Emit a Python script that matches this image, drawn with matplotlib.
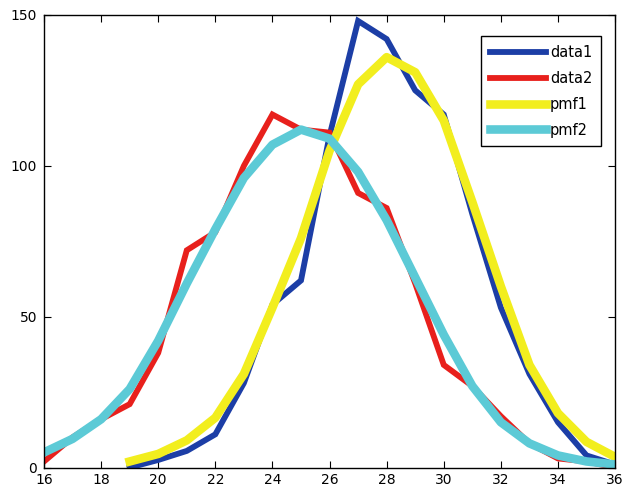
import numpy as np
import matplotlib.pyplot as plt

# valeurs
x1 = np.arange(19, 37)
data1 = [0, 2.5, 5.5, 11, 28, 54, 62, 110, 148, 142, 125, 117, 84, 53, 31, 15, 4, 1]
pmf1 = [2, 4.5, 9, 16.5, 31, 53, 76, 105, 127, 136, 131, 115, 88, 60, 34, 18, 8.5, 3.5]

x2 = np.arange(16, 37)
data2 = [2, 10, 16, 21, 38, 72, 78, 100, 117, 112, 111, 91, 86, 61, 34, 27, 17, 8, 3, 2, 0]
pmf2 = [5, 9.5, 16, 26, 42, 61, 79, 96, 107, 112, 109, 98, 82, 63, 44, 27, 15, 8, 4, 2, 1]

xticks = np.arange(16, 37, 2)
yticks = [0, 50, 100, 150]

fig = plt.figure(figsize=(6.27, 4.93), dpi=100)
ax = fig.add_axes([0.0702, 0.0517, 0.9108, 0.918])

ax.plot(x1, data1, color="#1c3ea6", lw=4.2, label="data1", solid_joinstyle="miter")
ax.plot(x2, data2, color="#e8201c", lw=4.2, label="data2", solid_joinstyle="miter")
ax.plot(x1, pmf1, color="#f2ee1e", lw=6.2, label="pmf1")
ax.plot(x2, pmf2, color="#5ccad6", lw=6.2, label="pmf2")

ax.set_xlim(16, 36)
ax.set_ylim(0, 150)
ax.set_xticks(xticks)
ax.set_yticks(yticks)
ax.tick_params(direction="in", length=5, top=True, right=True, labelsize=10)
ax.tick_params(axis="y", pad=5)
ax.tick_params(axis="x", pad=4)
for s in ax.spines.values():
    s.set_linewidth(1.0)

leg = ax.legend(loc="upper right", bbox_to_anchor=(0.9755, 0.9535), fancybox=False,
                edgecolor="black", framealpha=1, handlelength=3.8, handletextpad=0.3,
                borderpad=0.6, labelspacing=0.75, borderaxespad=0, fontsize=10.5)
leg.get_frame().set_linewidth(1.0)

fig.savefig("out.png", dpi=100)
